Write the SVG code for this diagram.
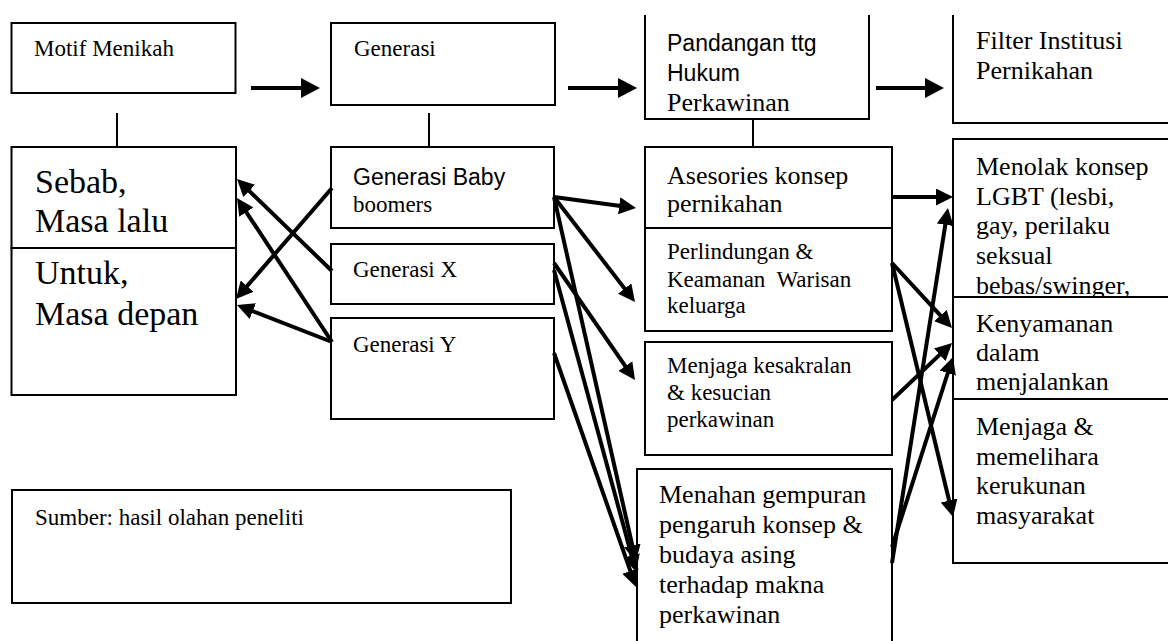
<svg xmlns="http://www.w3.org/2000/svg" width="1168" height="641" viewBox="0 0 1168 641">
<style>
.bx{fill:#fff;stroke:#000;stroke-width:2}
.ln{fill:none;stroke:#000;stroke-width:2}
.ar{fill:none;stroke:#000;stroke-width:4;marker-end:url(#ah)}
.arb{fill:none;stroke:#000;stroke-width:4;marker-end:url(#ahb)}
text{fill:#000;font-family:"Liberation Serif","Times New Roman",serif;white-space:pre}
.s23{font-size:23px}
.s26{font-size:26px}
.s34{font-size:34px}
.sans{font-family:"Liberation Sans",Arial,sans-serif;font-size:23px}
</style>
<defs>
<marker id="ah" markerUnits="userSpaceOnUse" markerWidth="17" markerHeight="17" refX="7" refY="8.5" orient="auto"><path d="M0,0 L17,8.5 L0,17 z" fill="#000"/></marker>
<marker id="ahb" markerUnits="userSpaceOnUse" markerWidth="19" markerHeight="20" refX="9" refY="10" orient="auto"><path d="M0,0 L19,10 L0,20 z" fill="#000"/></marker>
</defs>
<rect width="1168" height="641" fill="#fff"/>

<g id="motif">
<rect class="bx" x="11.5" y="23" width="224" height="70"/>
<text class="s23" x="34" y="56">Motif Menikah</text>
</g>
<g id="generasi">
<rect class="bx" x="331" y="23" width="224" height="82"/>
<text class="s23" x="354" y="56">Generasi</text>
</g>
<g id="pandangan">
<path class="ln" d="M645,15 V119 H869 V15"/>
<text class="sans" x="667" y="51">Pandangan ttg</text>
<text class="sans" x="667" y="81">Hukum</text>
<text class="s26" x="667" y="111">Perkawinan</text>
</g>
<g id="filter">
<path class="ln" d="M953,15 V123 H1175"/>
<text class="s26" x="976" y="49">Filter Institusi</text>
<text class="s26" x="976" y="79">Pernikahan</text>
</g>
<g id="sebab">
<rect class="bx" x="11.5" y="147" width="224.5" height="101"/>
<text class="s34" x="35" y="193">Sebab,</text>
<text class="s34" x="35" y="232">Masa lalu</text>
</g>
<g id="untuk">
<rect class="bx" x="11.5" y="248" width="224.5" height="147"/>
<text class="s34" x="35" y="284">Untuk,</text>
<text class="s34" x="35" y="325">Masa depan</text>
</g>
<g id="gen-baby">
<rect class="bx" x="331" y="147" width="223" height="81"/>
<text class="sans" x="353" y="185">Generasi Baby</text>
<text class="s23" x="353" y="212">boomers</text>
</g>
<g id="gen-x">
<rect class="bx" x="331" y="244" width="223" height="60"/>
<text class="s23" x="353" y="277">Generasi X</text>
</g>
<g id="gen-y">
<rect class="bx" x="331" y="318" width="223" height="101"/>
<text class="s23" x="353" y="352">Generasi Y</text>
</g>
<g id="asesories">
<rect class="bx" x="645" y="147" width="247" height="81"/>
<text class="s26" x="667" y="184">Asesories konsep</text>
<text class="s26" x="667" y="212">pernikahan</text>
</g>
<g id="perlindungan">
<rect class="bx" x="645" y="228" width="247" height="103"/>
<text class="s23" x="667" y="259">Perlindungan &amp;</text>
<text class="s23" x="667" y="287">Keamanan  Warisan</text>
<text class="s23" x="667" y="313">keluarga</text>
</g>
<g id="kesakralan">
<rect class="bx" x="645" y="342" width="247" height="113"/>
<text class="s23" x="667" y="373">Menjaga kesakralan</text>
<text class="s23" x="667" y="400">&amp; kesucian</text>
<text class="s23" x="667" y="427">perkawinan</text>
</g>
<g id="menahan">
<rect class="bx" x="637" y="469" width="255" height="185"/>
<text class="s26" x="659" y="503">Menahan gempuran</text>
<text class="s26" x="659" y="533">pengaruh konsep &amp;</text>
<text class="s26" x="659" y="563">budaya asing</text>
<text class="s26" x="659" y="593">terhadap makna</text>
<text class="s26" x="659" y="623">perkawinan</text>
</g>
<g id="menolak">
<rect class="bx" x="953" y="139" width="230" height="158"/>
<text class="s26" x="976" y="175">Menolak konsep</text>
<text class="s26" x="976" y="204.5">LGBT (lesbi,</text>
<text class="s26" x="976" y="234">gay, perilaku</text>
<text class="s26" x="976" y="263.5">seksual</text>
<text class="s26" x="976" y="294">bebas/swinger,</text>
</g>
<g id="kenyamanan">
<rect class="bx" x="953" y="297" width="230" height="102"/>
<text class="s26" x="976" y="332">Kenyamanan</text>
<text class="s26" x="976" y="361">dalam</text>
<text class="s26" x="976" y="390">menjalankan</text>
</g>
<g id="kerukunan">
<rect class="bx" x="953" y="399" width="230" height="164"/>
<text class="s26" x="976" y="435">Menjaga &amp;</text>
<text class="s26" x="976" y="464.5">memelihara</text>
<text class="s26" x="976" y="494">kerukunan</text>
<text class="s26" x="976" y="523.5">masyarakat</text>
</g>
<g id="sumber">
<rect class="bx" x="12" y="490" width="499" height="113"/>
<text class="s23" x="35" y="525">Sumber: hasil olahan peneliti</text>
</g>

<g id="connectors">
<line class="ln" x1="117" y1="113" x2="117" y2="147"/>
<line class="ln" x1="429" y1="113" x2="429" y2="147"/>
<line class="ln" x1="753" y1="119" x2="753" y2="147"/>
<line class="arb" x1="251" y1="88" x2="310" y2="88"/>
<line class="arb" x1="568" y1="88" x2="627" y2="88"/>
<line class="arb" x1="876" y1="88" x2="934" y2="88"/>
<line class="ar" x1="332" y1="188" x2="242.5" y2="291.4"/>
<line class="ar" x1="332" y1="271" x2="244.2" y2="186"/>
<line class="ar" x1="332" y1="342" x2="242.5" y2="206.3"/>
<line class="ar" x1="332" y1="342" x2="246.3" y2="308.6"/>
<line class="ar" x1="554" y1="197" x2="626.1" y2="206.7"/>
<line class="ar" x1="554" y1="197" x2="628.9" y2="294.1"/>
<line class="ar" x1="554" y1="263" x2="629.3" y2="371.8"/>
<line class="ar" x1="554" y1="197" x2="633.8" y2="552.2"/>
<line class="ar" x1="554" y1="270" x2="633.4" y2="562.3"/>
<line class="ar" x1="554" y1="353" x2="632.7" y2="577.6"/>
<line class="ar" x1="892" y1="197" x2="943" y2="197"/>
<line class="ar" x1="892" y1="263" x2="945.2" y2="320.7"/>
<line class="ar" x1="892" y1="263" x2="950.7" y2="507.3"/>
<line class="ar" x1="892" y1="400" x2="944.8" y2="349.9"/>
<line class="ar" x1="892" y1="563" x2="946.4" y2="217.9"/>
<line class="ar" x1="892" y1="547" x2="949.9" y2="366.5"/>
</g>
</svg>
